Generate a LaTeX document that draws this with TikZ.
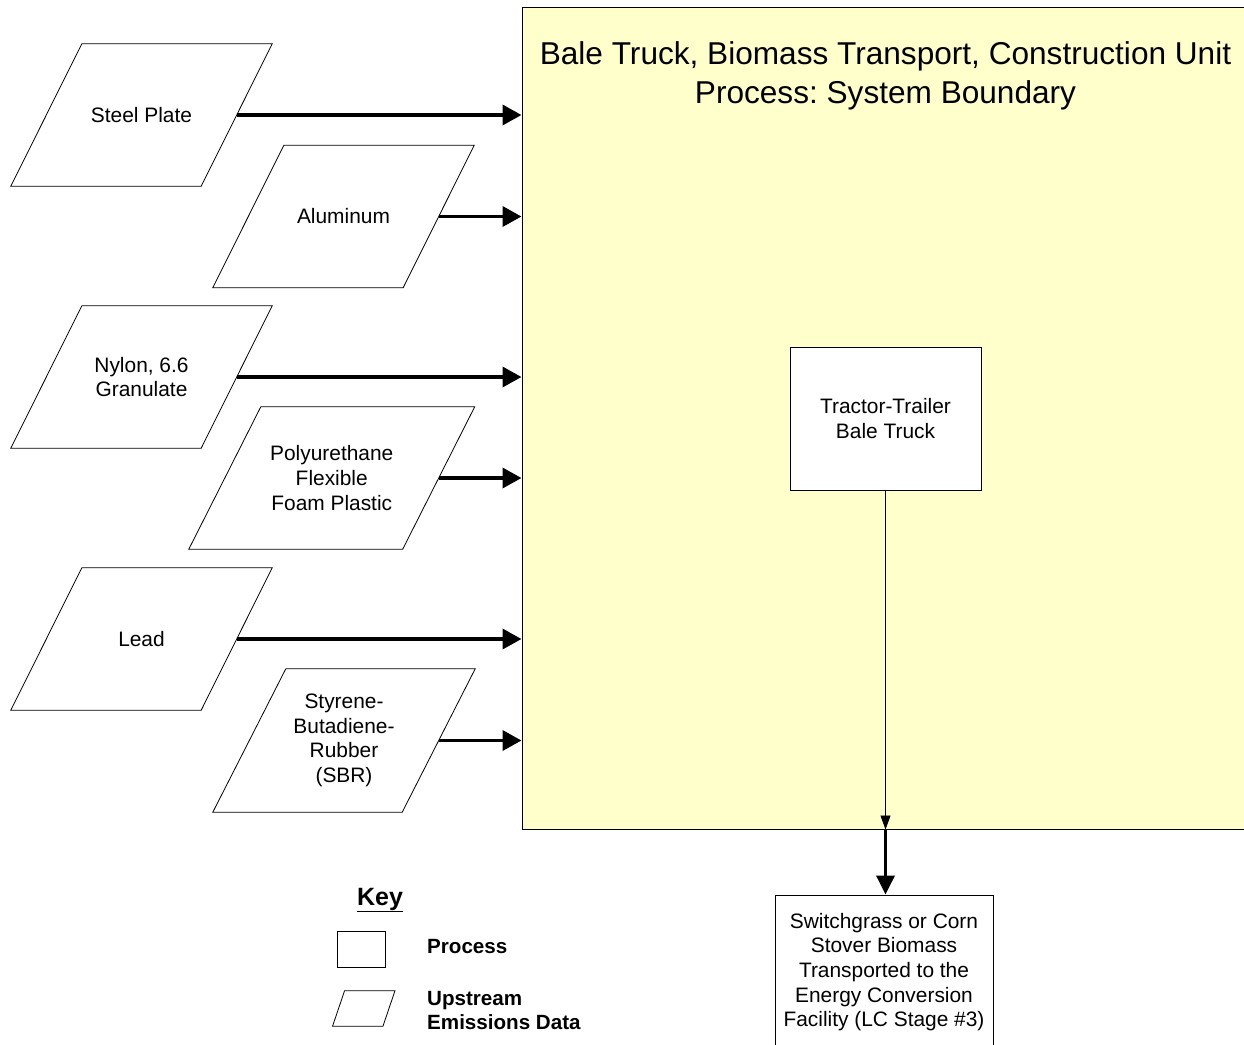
\documentclass[tikz,border=0pt]{standalone}
\usepackage{fontspec}
\setmainfont{Liberation Sans}
\usepackage{tikz}
\usetikzlibrary{arrows.meta,calc}
\definecolor{boundaryfill}{RGB}{255,255,204}
\frenchspacing

\begin{document}
\begin{tikzpicture}[x=1pt, y=-1pt,
  body/.style={font=\fontsize{20.9}{24.7}\selectfont, align=center, inner sep=0pt},
  upstream/.style={body, minimum height=142pt},
  process/.style={body, draw, line width=1pt, fill=white},
  feed/.style={line width=3.6pt, -{Triangle[length=19pt,width=20pt]}},
  keytext/.style={font=\fontsize{20.6}{24}\selectfont\bfseries, align=left, anchor=west, inner sep=0pt}]
  \useasboundingbox (0,0) rectangle (1244,1044);
  \node[draw, line width=1pt, fill=boundaryfill, minimum width=730pt, minimum height=822pt, inner sep=0pt] (boundary) at (887,418) {};
  \node[font=\fontsize{31.6}{39}\selectfont, align=center, inner sep=0pt] (title) at (885.5,76) {Bale Truck, Biomass Transport, Construction Unit\\Process: System Boundary};
  \node[upstream, minimum width=190pt] (steel) at (141.5,115) {Steel Plate};
  \node[upstream, minimum width=190pt] (alum) at (343.5,216.5) {Aluminum};
  \node[upstream, minimum width=190pt] (nylon) at (141.5,377) {Nylon, 6.6\\Granulate};
  \node[upstream, minimum width=213.5pt] (foam) at (331.75,478) {Polyurethane\\Flexible\\Foam Plastic};
  \node[upstream, minimum width=190pt] (lead) at (141.5,639) {Lead};
  \node[upstream, minimum width=189pt, minimum height=143pt] (sbr) at (344,740.5) {Styrene-\\Butadiene-\\Rubber\\(SBR)};
  \node[upstream, minimum width=50pt, minimum height=35pt] (keyup) at (363.75,1008.5) {};
  \foreach \n/\s in {steel/35.5, alum/35.5, nylon/35.5, foam/36, lead/35.5, sbr/36.5, keyup/6}
    \draw[line width=0.8pt] ($(\n.north west)+(\s,0)$) -- ($(\n.north east)+(\s,0)$) -- ($(\n.south east)-(\s,0)$) -- ($(\n.south west)-(\s,0)$) -- cycle;
  \foreach \n in {steel,alum,nylon,foam,lead,sbr}
    \draw[feed] (\n.east) -- (\n.east -| boundary.west);
  \node[process, minimum width=191pt, minimum height=143pt] (truck) at (885.5,418.5) {Tractor-Trailer\\Bale Truck};
  \node[process, minimum width=218pt, minimum height=154pt] (product) at (884,972) {Switchgrass or Corn\\Stover Biomass\\Transported to the\\Energy Conversion\\Facility (LC Stage \#3)};
  \coordinate (exit) at (truck.south |- boundary.south);
  \draw[line width=0.8pt, -{Triangle[length=14pt,width=10pt]}] (truck.south) -- (exit);
  \draw[line width=3.6pt, -{Triangle[length=19pt,width=18pt]}] (exit) -- (exit |- product.north);
  \node[font=\fontsize{25}{30}\selectfont\bfseries, inner sep=0pt] (key) at (380,900) {\underline{Key}};
  \node[process, minimum width=48pt, minimum height=36pt] (keyproc) at (361,949) {};
  \node[keytext] (keyproctext) at (427,946) {Process};
  \node[keytext] (keyuptext) at (427,1010) {Upstream\\Emissions Data};
\end{tikzpicture}
\end{document}
